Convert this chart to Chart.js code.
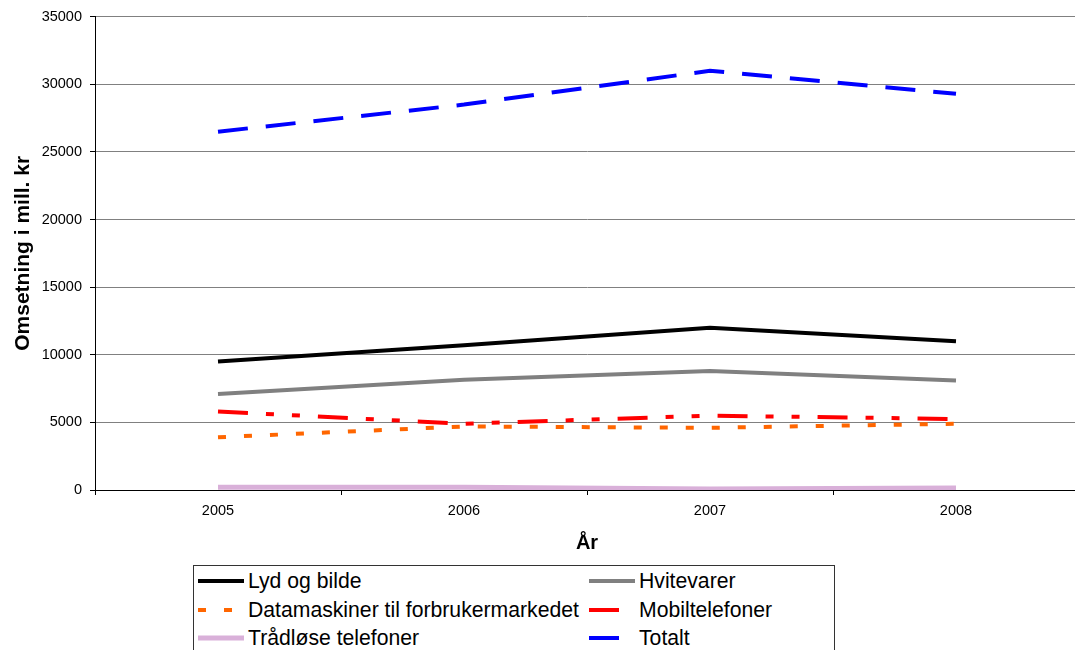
<!DOCTYPE html>
<html>
<head>
<meta charset="utf-8">
<script src="https://cdn.jsdelivr.net/npm/chart.js@4"></script>
<style>
  html, body { margin: 0; padding: 0; background: #fff; overflow: hidden; width: 1075px; height: 650px; }
  #wrap { position: absolute; left: 0; top: 0; width: 1080px; height: 560px; }
  #legend { position: absolute; left: 193px; top: 565px; width: 642px; height: 100px; border: 1px solid #333; box-sizing: border-box;
            display: grid; grid-template-columns: 391px 250px; grid-auto-rows: 28.5px; padding-top: 1px;
            font-family: "Liberation Sans", Arial, sans-serif; font-size: 21.2px; color: #000; }
  .item { display: flex; align-items: center; padding-left: 4px; white-space: nowrap; }
  .item svg { flex: 0 0 auto; margin-right: 4px; }
</style>
</head>
<body>
<div id="wrap"><canvas id="c"></canvas></div>
<div id="legend"></div>
<script>
const years = ['2005', '2006', '2007', '2008'];
const lydOgBilde = [9500, 10700, 12000, 11000];
const hvitevarer = [7100, 8150, 8800, 8100];
const datamaskiner = [3900, 4700, 4600, 4900];
const mobiltelefoner = [5800, 4900, 5500, 5250];
const tradlose = [200, 200, 80, 150];
const totalt = [26500, 28500, 31000, 29300];

const FONT = '"Liberation Sans", Arial, sans-serif';

const datasets = [
  { label: 'Lyd og bilde', data: lydOgBilde, borderColor: '#000000', borderWidth: 4, borderDash: [] },
  { label: 'Hvitevarer', data: hvitevarer, borderColor: '#808080', borderWidth: 4, borderDash: [] },
  { label: 'Datamaskiner til forbrukermarkedet', data: datamaskiner, borderColor: '#FF6600', borderWidth: 4, borderDash: [8, 18] },
  { label: 'Mobiltelefoner', data: mobiltelefoner, borderColor: '#FF0000', borderWidth: 4, borderDash: [30, 18, 8, 18, 8, 18] },
  { label: 'Trådløse telefoner', data: tradlose, borderColor: '#d9b0d9', borderWidth: 5, borderDash: [] },
  { label: 'Totalt', data: totalt, borderColor: '#0000FF', borderWidth: 4, borderDash: [30, 18] }
].map(d => Object.assign(d, { pointRadius: 0, pointHoverRadius: 0, tension: 0, fill: false, borderCapStyle: 'butt' }));

new Chart(document.getElementById('c'), {
  type: 'line',
  data: { labels: years, datasets: datasets },
  options: {
    responsive: true,
    maintainAspectRatio: false,
    animation: false,
    layout: { padding: { left: 0, top: 16, right: 1, bottom: 0 } },
    plugins: { legend: { display: false }, tooltip: { enabled: false } },
    scales: {
      x: {
        type: 'category',
        offset: true,
        grid: { display: true, drawOnChartArea: false, drawTicks: true, tickLength: 5, offset: true, color: '#000' },
        border: { display: true, color: '#000', width: 1 },
        ticks: { color: '#000', font: { family: FONT, size: 14.5 }, padding: 7, maxRotation: 0 },
        title: { display: true, text: 'År', color: '#000', font: { family: FONT, size: 20, weight: 'bold' }, padding: { top: 0, bottom: 5 } },
        afterFit: s => { s.height = 70; }
      },
      y: {
        min: 0, max: 35000,
        ticks: { stepSize: 5000, color: '#000', font: { family: FONT, size: 14.5 }, padding: 8, callback: v => String(v) },
        grid: { color: '#808080', lineWidth: 1, tickLength: 5, tickColor: '#000' },
        border: { display: true, color: '#000', width: 1 },
        title: { display: true, text: 'Omsetning i mill. kr', color: '#000', font: { family: FONT, size: 21, weight: 'bold' }, padding: { top: 11, bottom: 0 } },
        afterFit: s => { s.width = 95; }
      }
    }
  }
});

// HTML legend built from the datasets
const legend = document.getElementById('legend');
datasets.forEach(d => {
  const item = document.createElement('div');
  item.className = 'item';
  const svgNS = 'http://www.w3.org/2000/svg';
  const svg = document.createElementNS(svgNS, 'svg');
  svg.setAttribute('width', '46'); svg.setAttribute('height', '10');
  const line = document.createElementNS(svgNS, 'line');
  line.setAttribute('x1', '0'); line.setAttribute('x2', '46');
  line.setAttribute('y1', '5'); line.setAttribute('y2', '5');
  line.setAttribute('stroke', d.borderColor);
  line.setAttribute('stroke-width', d.borderWidth);
  if (d.borderDash.length) line.setAttribute('stroke-dasharray', d.borderDash.join(' '));
  svg.appendChild(line);
  item.appendChild(svg);
  const span = document.createElement('span');
  span.textContent = d.label;
  item.appendChild(span);
  legend.appendChild(item);
});
</script>
</body>
</html>
